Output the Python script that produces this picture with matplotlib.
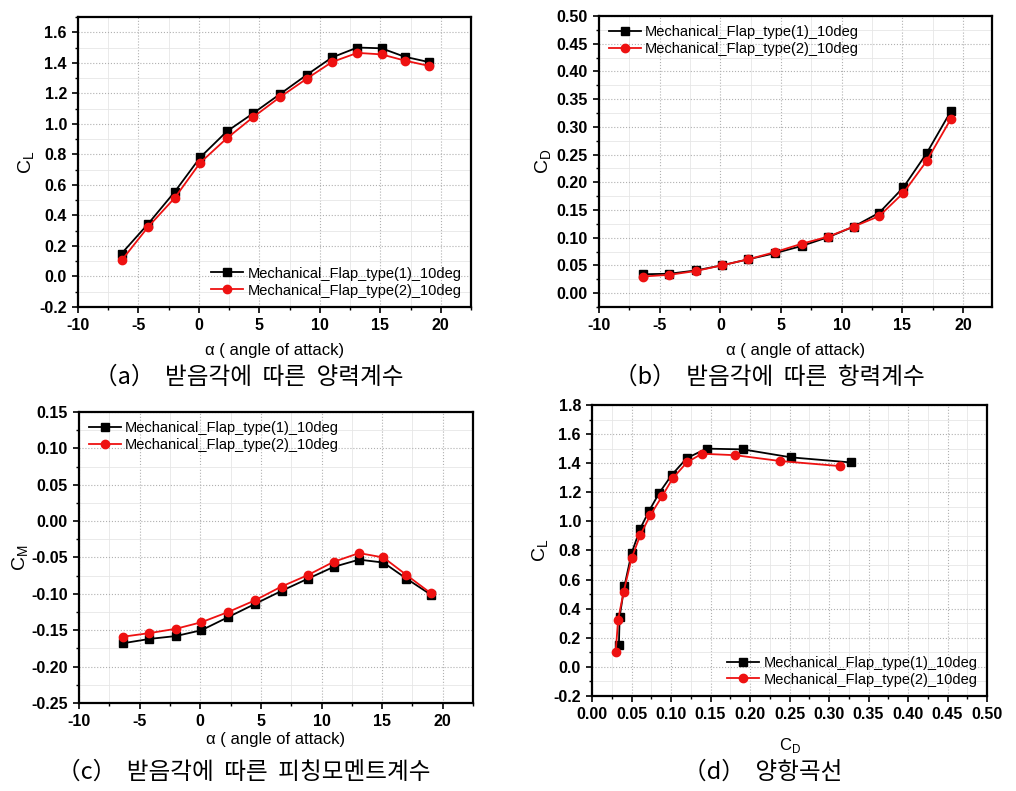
import numpy as np
import matplotlib
matplotlib.use("Agg")
import matplotlib.pyplot as plt
from matplotlib.ticker import MultipleLocator, FormatStrFormatter

plt.rcParams['font.family'] = ['Liberation Sans', 'DejaVu Sans']
plt.rcParams['mathtext.fontset'] = 'custom'
plt.rcParams['mathtext.rm'] = 'Liberation Sans'

# ---- data ----
alpha = [-6.4, -4.2, -2.0, 0.1, 2.3, 4.5, 6.7, 8.9, 11.0, 13.1, 15.1, 17.0, 19.0]

cl_type1 = [0.15, 0.345, 0.555, 0.78, 0.95, 1.07, 1.195, 1.32, 1.435, 1.50, 1.495, 1.44, 1.405]
cl_type2 = [0.105, 0.325, 0.515, 0.745, 0.905, 1.045, 1.175, 1.295, 1.405, 1.465, 1.455, 1.415, 1.38]

cd_type1 = [0.034, 0.035, 0.041, 0.050, 0.061, 0.072, 0.085, 0.101, 0.120, 0.145, 0.191, 0.252, 0.328]
cd_type2 = [0.030, 0.033, 0.040, 0.050, 0.061, 0.074, 0.089, 0.102, 0.120, 0.139, 0.181, 0.238, 0.314]

cm_type1 = [-0.168, -0.162, -0.158, -0.150, -0.132, -0.114, -0.096, -0.079, -0.063, -0.053, -0.057, -0.079, -0.101]
cm_type2 = [-0.159, -0.154, -0.148, -0.139, -0.125, -0.109, -0.090, -0.074, -0.056, -0.044, -0.050, -0.074, -0.099]

labels = ["Mechanical_Flap_type(1)_10deg", "Mechanical_Flap_type(2)_10deg"]
captions = ["（a）  받음각에  따른  양력계수", "（b）  받음각에  따른  항력계수",
            "（c）  받음각에  따른  피칭모멘트계수", "（d）  양항곡선"]

fig = plt.figure(figsize=(10.16, 7.91), dpi=100)

ax_a = fig.add_axes([0.0768, 0.6119, 0.3868, 0.3666])
ax_b = fig.add_axes([0.5896, 0.6119, 0.3868, 0.3679])
ax_c = fig.add_axes([0.0778, 0.1113, 0.3878, 0.3679])
ax_d = fig.add_axes([0.5827, 0.1201, 0.3888, 0.3679])


def style(ax, xmaj, xmin, ymaj, ymin, xfmt, yfmt):
    ax.xaxis.set_major_locator(MultipleLocator(xmaj))
    ax.xaxis.set_minor_locator(MultipleLocator(xmin))
    ax.yaxis.set_major_locator(MultipleLocator(ymaj))
    ax.yaxis.set_minor_locator(MultipleLocator(ymin))
    ax.xaxis.set_major_formatter(FormatStrFormatter(xfmt))
    ax.yaxis.set_major_formatter(FormatStrFormatter(yfmt))
    ax.grid(which='major', color='#b0b0b0', linestyle=':', linewidth=0.8)
    ax.grid(which='minor', color='#e6e6e6', linestyle='-', linewidth=0.6)
    ax.set_axisbelow(True)
    ax.tick_params(which='major', direction='out', length=4.5, width=1.2,
                   labelsize=11.5, top=False, right=False)
    ax.tick_params(which='minor', direction='out', length=2.5, width=1.0,
                   top=False, right=False)
    for lab in ax.get_xticklabels() + ax.get_yticklabels():
        lab.set_fontweight('bold')
    for sp in ax.spines.values():
        sp.set_linewidth(1.6)


def two_lines(ax, x1, y1, x2, y2, loc):
    ax.plot(x1, y1, color='black', marker='s', markersize=5.5, linewidth=1.3, label=labels[0])
    ax.plot(x2, y2, color='#ee1111', marker='o', markersize=6, linewidth=1.3, label=labels[1])
    ax.legend(loc=loc, frameon=False, fontsize=10.5, handlelength=2.2,
              handletextpad=0.3, labelspacing=0.2, borderaxespad=0.25)


# (a) CL vs alpha
two_lines(ax_a, alpha, cl_type1, alpha, cl_type2, 'lower right')
ax_a.set_xlim(-10, 22.5)
ax_a.set_ylim(-0.2, 1.7)
style(ax_a, 5, 2.5, 0.2, 0.1, '%d', '%.1f')
ax_a.set_ylabel(r'C$_\mathregular{L}$', fontsize=14, labelpad=2)
ax_a.set_xlabel('α ( angle of attack)', fontsize=12, labelpad=7)

# (b) CD vs alpha
two_lines(ax_b, alpha, cd_type1, alpha, cd_type2, 'upper left')
ax_b.set_xlim(-10, 22.4)
ax_b.set_ylim(-0.025, 0.5)
style(ax_b, 5, 2.5, 0.05, 0.025, '%d', '%.2f')
ax_b.set_ylabel(r'C$_\mathregular{D}$', fontsize=14, labelpad=2)
ax_b.set_xlabel('α ( angle of attack)', fontsize=12, labelpad=7)

# (c) CM vs alpha
two_lines(ax_c, alpha, cm_type1, alpha, cm_type2, 'upper left')
ax_c.set_xlim(-10, 22.5)
ax_c.set_ylim(-0.25, 0.15)
style(ax_c, 5, 2.5, 0.05, 0.025, '%d', '%.2f')
ax_c.set_ylabel(r'C$_\mathregular{M}$', fontsize=14, labelpad=0)
ax_c.set_xlabel('α ( angle of attack)', fontsize=12, labelpad=2)

# (d) drag polar
two_lines(ax_d, cd_type1, cl_type1, cd_type2, cl_type2, 'lower right')
ax_d.set_xlim(0.0, 0.5)
ax_d.set_ylim(-0.2, 1.8)
style(ax_d, 0.05, 0.025, 0.2, 0.1, '%.2f', '%.1f')
ax_d.set_ylabel(r'C$_\mathregular{L}$', fontsize=14, labelpad=2)
ax_d.set_xlabel(r'C$_\mathregular{D}$', fontsize=12, labelpad=10)

cap_font = ['Noto Sans CJK KR', 'DejaVu Sans']
fig.text(0.245, 1 - 377 / 791, captions[0], fontsize=17, family=cap_font, ha='center', va='center')
fig.text(0.757, 1 - 377 / 791, captions[1], fontsize=17, family=cap_font, ha='center', va='center')
fig.text(0.240, 1 - 772 / 791, captions[2], fontsize=17, family=cap_font, ha='center', va='center')
fig.text(0.751, 1 - 772 / 791, captions[3], fontsize=17, family=cap_font, ha='center', va='center')

fig.savefig("out.png", dpi=100)
